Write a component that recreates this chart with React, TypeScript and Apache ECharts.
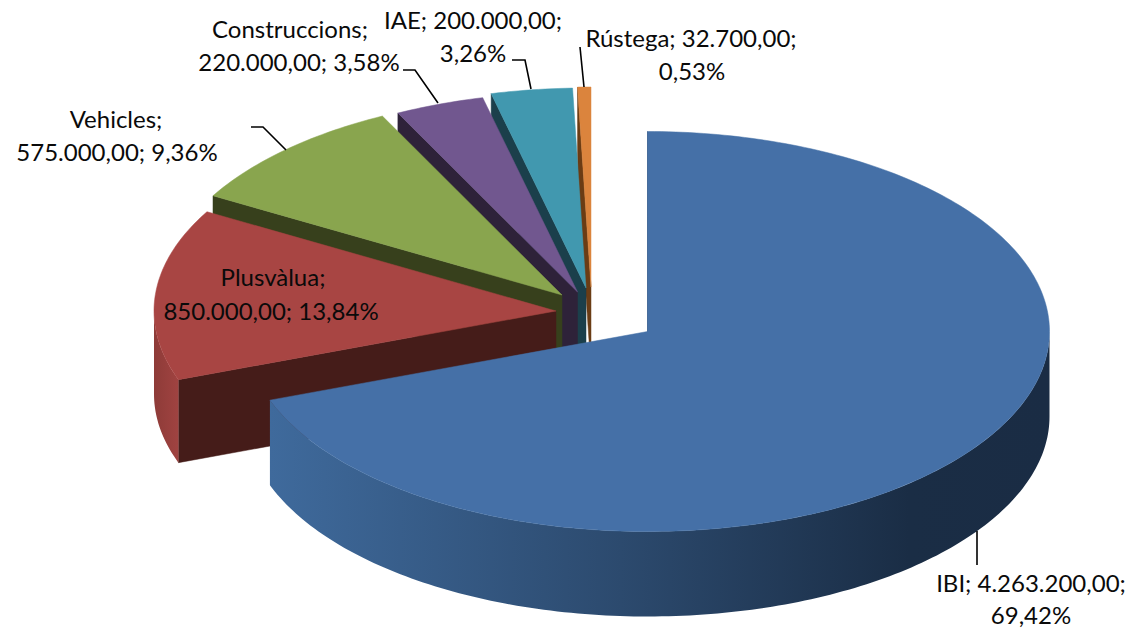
import React, { useEffect, useRef } from "react";
import * as echarts from "echarts";

const categories = ["IBI", "Plusvàlua", "Vehicles", "Construccions", "IAE", "Rústega"];
const values = [4263200, 850000, 575000, 220000, 200000, 32700];
const labelLines = [
  ["IBI; 4.263.200,00;", "69,42%"],
  ["Plusvàlua;", "850.000,00; 13,84%"],
  ["Vehicles;", "575.000,00; 9,36%"],
  ["Construccions;", "220.000,00; 3,58%"],
  ["IAE; 200.000,00;", "3,26%"],
  ["Rústega; 32.700,00;", "0,53%"],
];

// Layout and style only
const WIDTH = 1141;
const HEIGHT = 629;
const CX = 598;
const CY = 315;
const RX = 402;
const RY = 200;
const DEPTHS = [85, 83, 83, 83, 83, 83];
const explode = [[49.5, 16.5], [-42, -4], [-36, -20], [-20.5, -23], [-12, -27], [-7, -28]];
const topColors = ["#4570a7", "#a84543", "#89a54e", "#71578f", "#4198af", "#db843d"];
const faceColors = ["#1a2c44", "#451c19", "#37401c", "#2e2239", "#1b3f4b", "#6b3c14"];
const wallStops = [
  [{ offset: 0, color: "#3f6a9c" }, { offset: 0.45, color: "#2c4a6e" }, { offset: 0.82, color: "#1a2d45" }, { offset: 1, color: "#1a2c44" }],
  [{ offset: 0, color: "#8e3b38" }, { offset: 1, color: "#a04341" }],
];
const labelPos = [
  [[1031, 582], [1031, 614]],
  [[273, 276], [271, 310]],
  [[116, 118], [117, 151]],
  [[290, 28], [299, 61]],
  [[473, 19], [473, 52]],
  [[691, 37], [692, 70]],
];
const leaders = [
  [[977, 531], [977, 565]],
  [],
  [[251, 127], [263, 127], [286, 150]],
  [[403, 70], [415, 70], [438, 103]],
  [[512, 60], [525, 60], [531, 89]],
  [[580, 47], [584, 87]],
];

const total = values.reduce((a, b) => a + b, 0);
const starts: number[] = [];
values.reduce((acc, v, i) => {
  starts[i] = acc;
  return acc + (v / total) * 360;
}, 0);

const rad = (d: number) => (d * Math.PI) / 180;

function arcPts(ax: number, ay: number, from: number, to: number) {
  const pts: number[][] = [];
  const steps = Math.max(2, Math.ceil(Math.abs(to - from)));
  for (let i = 0; i <= steps; i++) {
    const t = rad(from + ((to - from) * i) / steps);
    pts.push([ax + RX * Math.sin(t), ay - RY * Math.cos(t)]);
  }
  return pts;
}

export default function App() {
  const ref = useRef<HTMLDivElement>(null);
  useEffect(() => {
    const chart = echarts.init(ref.current!, null, { renderer: "svg" });
    const graphicEls: any[] = [];
    leaders.forEach((pts) => {
      if (pts.length) {
        graphicEls.push({
          type: "polyline",
          z: 5,
          shape: { points: pts },
          style: { stroke: "#000", lineWidth: 1.6, fill: "none" },
        });
      }
    });
    labelLines.forEach((lines, i) => {
      lines.forEach((t, j) => {
        graphicEls.push({
          type: "text",
          z: 10,
          x: labelPos[i][j][0],
          y: labelPos[i][j][1],
          style: {
            text: t,
            fontFamily: "Lato",
            fontSize: 24,
            fill: "#0a0a0a",
            align: "center",
            verticalAlign: "middle",
          },
        });
      });
    });
    chart.setOption({
      animation: false,
      backgroundColor: "#fff",
      graphic: { elements: graphicEls },
      series: [
        {
          type: "custom",
          coordinateSystem: "none",
          silent: true,
          data: values.map((v, i) => ({ name: categories[i], value: [v] })),
          renderItem: (params: any, api: any) => {
            const i = params.dataIndex;
            const sweep = (api.value(0) / total) * 360;
            const a0 = starts[i];
            const a1 = a0 + sweep;
            const ax = CX + explode[i][0];
            const ay = CY + explode[i][1];
            const depth = DEPTHS[i];
            const order = values.length - i; // back slices are painted first
            const children: any[] = [];
            const startEdge = arcPts(ax, ay, a0, a0)[0];
            children.push({
              type: "polygon",
              z2: order * 10,
              shape: {
                points: [[ax, ay], startEdge, [startEdge[0], startEdge[1] + depth], [ax, ay + depth]],
              },
              style: { fill: faceColors[i], stroke: faceColors[i], lineWidth: 0.5 },
            });
            const w0 = Math.max(a0, 90);
            const w1 = Math.min(a1, 270);
            if (w1 > w0) {
              const upper = arcPts(ax, ay, w0, w1);
              const lower = arcPts(ax, ay + depth, w0, w1).reverse();
              children.push({
                type: "polygon",
                z2: order * 10 + 1,
                shape: { points: upper.concat(lower) },
                style: {
                  fill: new echarts.graphic.LinearGradient(0, 0, 1, 0, wallStops[i === 0 ? 0 : 1]),
                },
              });
            }
            children.push({
              type: "polygon",
              z2: order * 10 + 2,
              shape: { points: [[ax, ay], ...arcPts(ax, ay, a0, a1)] },
              style: { fill: topColors[i], stroke: topColors[i], lineWidth: 0.5 },
            });
            return { type: "group", children };
          },
        },
      ],
    });
    return () => chart.dispose();
  }, []);
  return (
    <div
      ref={ref}
      style={{ position: "absolute", left: 0, top: 0, width: WIDTH, height: HEIGHT, background: "#fff" }}
    />
  );
}
